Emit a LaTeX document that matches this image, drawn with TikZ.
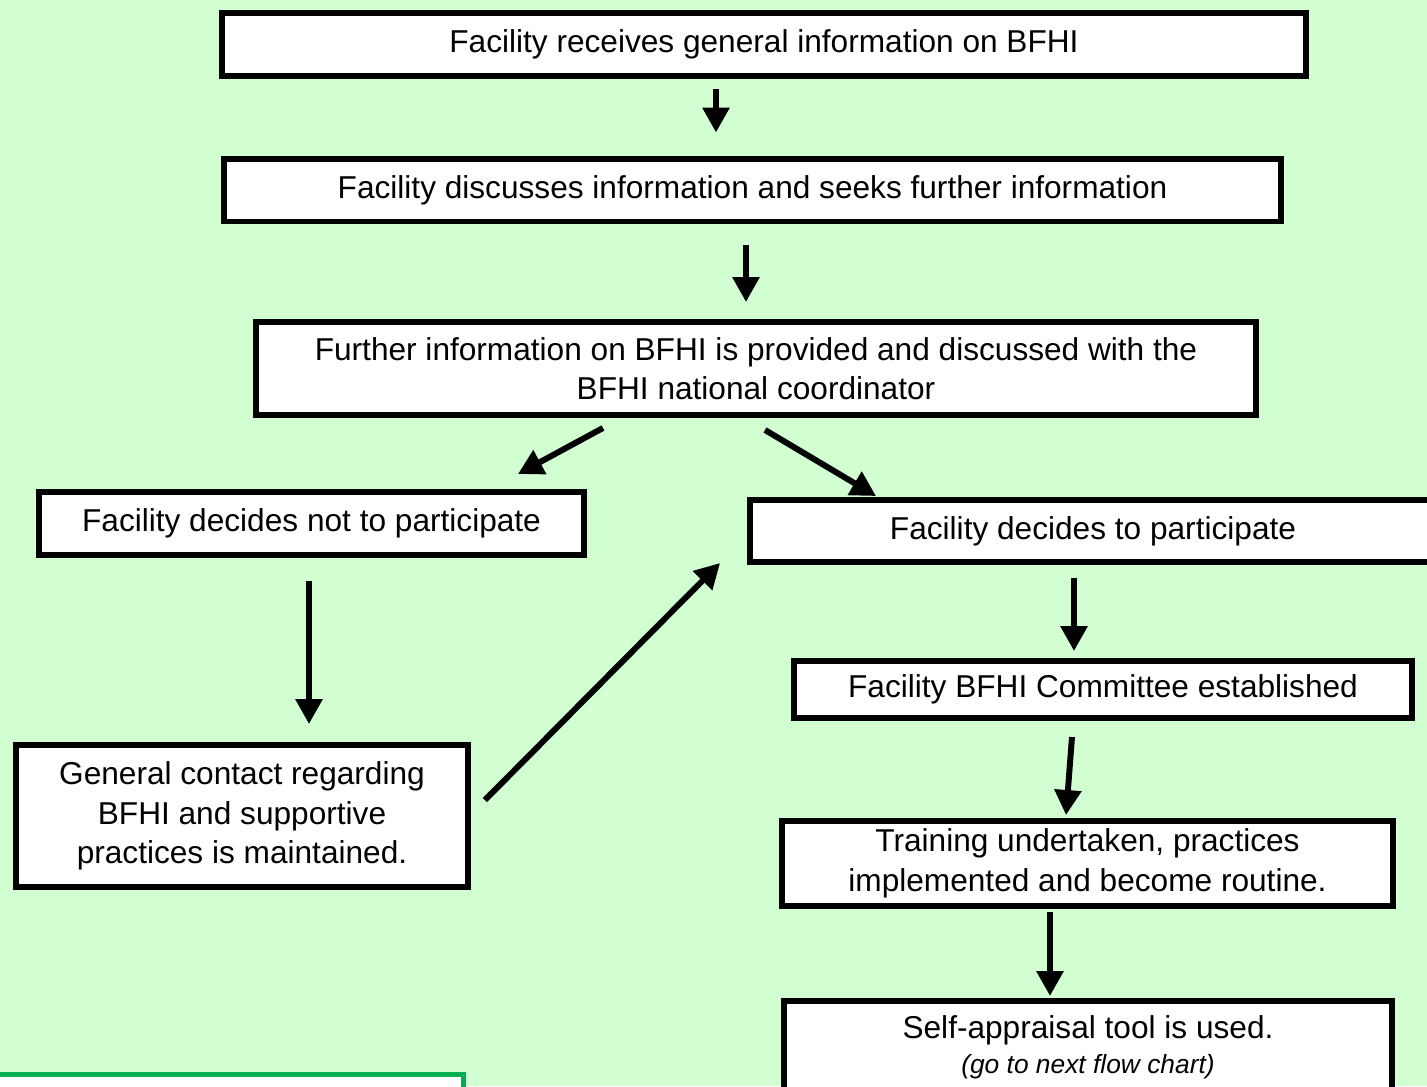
\documentclass[tikz,border=0pt]{standalone}
\usepackage{fontspec}
\setmainfont{Liberation Sans}
\usetikzlibrary{arrows.meta,calc}
\definecolor{bggreen}{RGB}{210,255,210}
\definecolor{notegreen}{RGB}{0,176,80}
\tikzset{
  stage/.style={draw, rectangle, line width=3.4pt, fill=white, inner sep=0pt, align=center, font=\fontsize{18}{22.5}\selectfont},
  flow/.style={-{Triangle[length=0.5cm, width=0.52cm]}, line width=3.4pt}
}

\begin{document}
\begin{tikzpicture}[x=0.02cm, y=-0.02cm]
    \useasboundingbox (0,0) rectangle (1427,1086);
    \clip (0,0) rectangle (1427,1086);
    \fill[bggreen] (0,0) rectangle (1427,1086);

    %boxes
    \node[stage, minimum width=21.68cm, minimum height=1.26cm] (A) at (764,44.5) {Facility receives general information on BFHI};
    \node[stage, minimum width=21.14cm, minimum height=1.26cm] (B) at (752.5,190) {Facility discusses information and seeks further information};
    \node[stage, minimum width=20cm, minimum height=1.86cm] (C) at (756,368.5) {Further information on BFHI is provided and discussed with the\\BFHI national coordinator};
    \node[stage, minimum width=10.9cm, minimum height=1.26cm] (D) at (311.5,523.5) {Facility decides not to participate};
    \node[stage, minimum width=13.72cm, minimum height=1.24cm] (E) at (1093,531) {Facility decides to participate};
    \node[stage, minimum width=9.04cm, minimum height=2.84cm] (F) at (242,816) {General contact regarding\\BFHI and supportive\\practices is maintained.};
    \node[stage, minimum width=12.36cm, minimum height=1.14cm] (G) at (1103,689.5) {Facility BFHI Committee established};
    \node[stage, minimum width=12.22cm, minimum height=1.7cm] (H) at (1087.5,863.5) {Training undertaken, practices\\implemented and become routine.};
    \node[stage, minimum width=12.16cm, minimum height=1.84cm, font=\fontsize{18}{20}\selectfont] (I) at (1088,1047) {Self-appraisal tool is used.\\{\fontsize{15}{20}\selectfont\itshape (go to next flow chart)}};

    %green box at the bottom
    \node[draw=notegreen, line width=0.1cm, fill=white, inner sep=0pt, minimum width=9.5cm, minimum height=1cm] (note) at (226,1099) {};

    %arrows
    \draw[flow] ($(A.south)+(-48,10)$) -- ($(B.north)+(-36.5,-23)$);
    \draw[flow] ($(B.south)+(-6.5,21)$) -- ($(C.north)+(-10,-17)$);
    \draw[flow] ($(C.south)+(-153,10)$) -- ($(D.north east)+(-69,-15)$);
    \draw[flow] ($(C.south)+(9,12)$) -- ($(E.north west)+(129,-1)$);
    \draw[flow] ($(D.south)+(-2.5,23)$) -- ($(F.north)+(67,-18)$);
    \draw[flow] ($(F.east)+(14,-16)$) -- ($(E.south west)+(-27,-2)$);
    \draw[flow] ($(E.south)+(-19,13)$) -- ($(G.north)+(-29,-7)$);
    \draw[flow] ($(G.south)+(-31,16)$) -- ($(H.north)+(-21.5,-3)$);
    \draw[flow] ($(H.south)+(-37.5,3)$) -- ($(I.north)+(-38,-2)$);
\end{tikzpicture}
\end{document}
